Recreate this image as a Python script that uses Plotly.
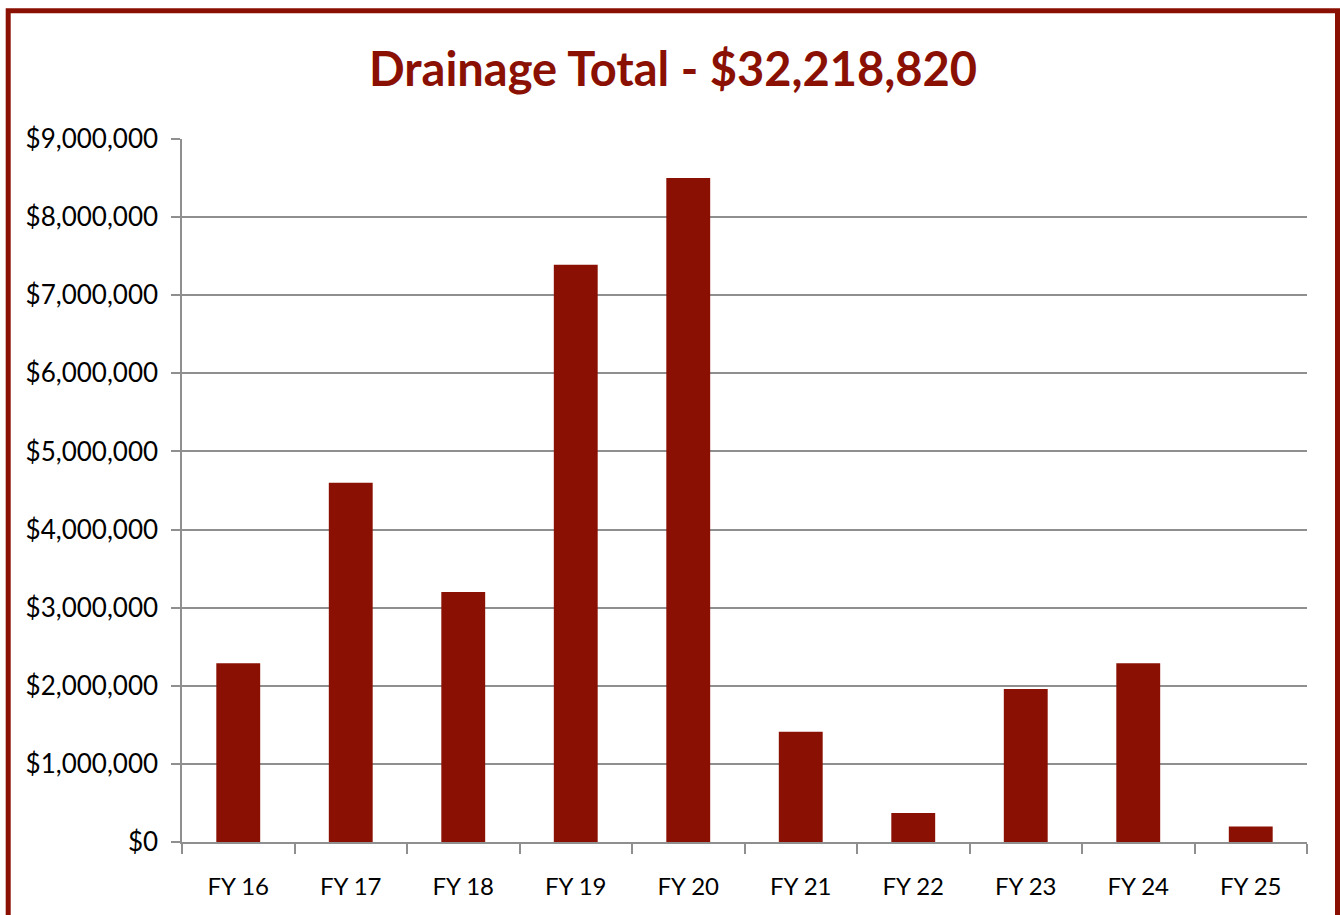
import plotly.graph_objects as go

# data
years = ["FY 16", "FY 17", "FY 18", "FY 19", "FY 20", "FY 21", "FY 22", "FY 23", "FY 24", "FY 25"]
amounts = [2290000, 4600000, 3200000, 7390000, 8500000, 1410000, 370000, 1960000, 2290000, 200000]
total = 32218820
y_ticks = [0, 1000000, 2000000, 3000000, 4000000, 5000000, 6000000, 7000000, 8000000, 9000000]
y_labels = ["${:,}".format(v) for v in y_ticks]

W, H = 1340, 915
ML, MR, MT, MB = 182, 33, 139, 73
RED = "#8B1004"
GRID = "#8f8f8f"
FONT = "Lato, 'Open Sans', sans-serif"

fig = go.Figure()
fig.add_trace(go.Bar(x=years, y=amounts, marker_color=RED, marker_line_width=0))

# frame around the whole chart (pixel positions converted to paper coords)
pw, ph = W - ML - MR, H - MT - MB
def px_x(p):
    return (p - ML) / pw
def px_y(p):
    return (H - MB - p) / ph

fig.add_shape(type="rect", xref="paper", yref="paper",
              x0=px_x(8.2), x1=px_x(1337.5), y0=px_y(930), y1=px_y(10.8),
              line=dict(color=RED, width=5), fillcolor="rgba(0,0,0,0)", layer="above")

fig.update_layout(
    width=W, height=H,
    margin=dict(l=ML, r=MR, t=MT, b=MB),
    paper_bgcolor="white", plot_bgcolor="white",
    bargap=0.61,
    showlegend=False,
    font=dict(family=FONT, color="black"),
    title=dict(text="<b>Drainage Total - ${:,}</b>".format(total),
               x=673 / W, xanchor="center", y=1 - 70 / H, yanchor="middle",
               font=dict(size=47, color=RED, family=FONT)),
)
fig.update_xaxes(type="category", showline=True, linecolor=GRID, linewidth=1.5,
                 ticks="outside", ticklen=10, tickcolor=GRID, tickwidth=1.5,
                 tickson="boundaries", showgrid=False,
                 tickfont=dict(size=24, color="black"), ticklabelstandoff=22)
fig.update_yaxes(range=[0, 9000000], tickvals=y_ticks, ticktext=y_labels,
                 showline=True, linecolor=GRID, linewidth=1.5,
                 ticks="outside", ticklen=9, tickcolor=GRID, tickwidth=1.5,
                 showgrid=True, gridcolor=GRID, gridwidth=1.5, zeroline=False,
                 tickfont=dict(size=26, color="black"), ticklabelstandoff=8)

# drop the default 8px body margin so the figure sits at the window's corner
fig.write_html("out.html", config={"displayModeBar": False},
               post_script="document.body.style.margin='0';")
